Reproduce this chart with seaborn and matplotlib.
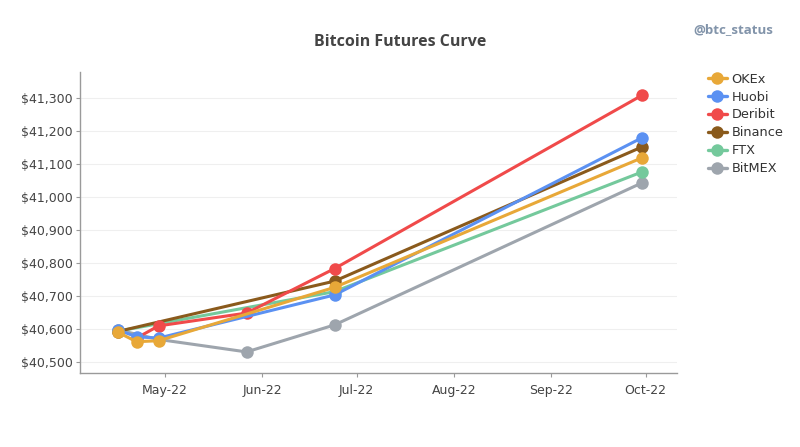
import pandas as pd
import numpy as np
import matplotlib
matplotlib.use("Agg")
import matplotlib.pyplot as plt
import matplotlib.dates as mdates
import matplotlib.ticker as mticker
import seaborn as sns

# futures prices, per exchange and expiry date
okex_dates = ["2022-04-16", "2022-04-22", "2022-04-29", "2022-06-24", "2022-09-30"]
okex_px = [40590, 40561, 40564, 40726, 41120]

huobi_dates = ["2022-04-16", "2022-04-22", "2022-04-29", "2022-06-24", "2022-09-30"]
huobi_px = [40597, 40576, 40572, 40703, 41181]

deribit_dates = ["2022-04-22", "2022-04-29", "2022-05-27", "2022-06-24", "2022-09-30"]
deribit_px = [40572, 40609, 40648, 40783, 41310]

binance_dates = ["2022-04-16", "2022-06-24", "2022-09-30"]
binance_px = [40592, 40745, 41153]

ftx_dates = ["2022-04-16", "2022-06-24", "2022-09-30"]
ftx_px = [40593, 40713, 41077]

bitmex_dates = ["2022-04-16", "2022-04-29", "2022-05-27", "2022-06-24", "2022-09-30"]
bitmex_px = [40597, 40568, 40530, 40612, 41044]

exchanges = ["OKEx", "Huobi", "Deribit", "Binance", "FTX", "BitMEX"]
colors = ["#E8A838", "#5B91F2", "#F04A4A", "#8A5A1C", "#74C99C", "#9EA5AD"]

series = {
    "OKEx": (okex_dates, okex_px),
    "Huobi": (huobi_dates, huobi_px),
    "Deribit": (deribit_dates, deribit_px),
    "Binance": (binance_dates, binance_px),
    "FTX": (ftx_dates, ftx_px),
    "BitMEX": (bitmex_dates, bitmex_px),
}

rows = []
for name, (d, p) in series.items():
    for di, pi in zip(d, p):
        rows.append({"exchange": name, "date": pd.Timestamp(di), "price": pi})
df = pd.DataFrame(rows)

palette = dict(zip(exchanges, colors))

sns.set_theme(style="white")
plt.rcParams["font.family"] = ["DejaVu Sans"]

fig = plt.figure(figsize=(8, 4.47), dpi=100)
ax = fig.add_axes([80 / 800, 1 - 373 / 447, 597 / 800, 301 / 447])

sns.lineplot(
    data=df, x="date", y="price", hue="exchange",
    hue_order=exchanges[::-1], palette=palette,
    marker="o", markersize=9, markeredgewidth=0,
    linewidth=2.2, legend=False, ax=ax,
)

ax.set_xlim(pd.Timestamp("2022-04-04"), pd.Timestamp("2022-10-11"))
ax.set_ylim(40466, 41380)
ax.yaxis.set_major_locator(mticker.MultipleLocator(100))
ax.yaxis.set_major_formatter(mticker.StrMethodFormatter("${x:,.0f}"))
ax.xaxis.set_major_locator(mdates.MonthLocator(bymonth=[5, 6, 7, 8, 9, 10]))
ax.xaxis.set_major_formatter(mdates.DateFormatter("%b-%y"))

ax.set_xlabel("")
ax.set_ylabel("")
ax.grid(axis="y", color="#efefef", linewidth=0.8)
ax.grid(axis="x", visible=False)
for s in ["top", "right"]:
    ax.spines[s].set_visible(False)
for s in ["left", "bottom"]:
    ax.spines[s].set_color("#9a9a9a")
    ax.spines[s].set_linewidth(1)
ax.tick_params(axis="both", colors="#9a9a9a", length=3, width=0.8,
               labelcolor="#444444", labelsize=9, left=True, bottom=True)
ax.tick_params(axis="y", pad=2)
ax.tick_params(axis="x", pad=5)

handles = [
    plt.Line2D([0], [0], color=palette[e], marker="o", markersize=9,
               markeredgewidth=0, linewidth=2.4, label=e)
    for e in exchanges
]
fig.legend(handles=handles, loc="upper left",
           bbox_to_anchor=(696 / 800, 1 - 61 / 447), frameon=False,
           fontsize=9.3, handlelength=1.5, labelspacing=0.38,
           handletextpad=0.35, labelcolor="#333333")

fig.text(400 / 800, 1 - 42 / 447, "Bitcoin Futures Curve", ha="center",
         va="center", fontsize=11.5, fontweight="bold", color="#444444",
         family=["Open Sans", "DejaVu Sans"])
fig.text(733 / 800, 1 - 30 / 447, "@btc_status", ha="center", va="center",
         fontsize=9.6, fontweight="bold", color="#8294AA",
         family=["Open Sans", "DejaVu Sans"])

fig.savefig("out.png", dpi=100)
